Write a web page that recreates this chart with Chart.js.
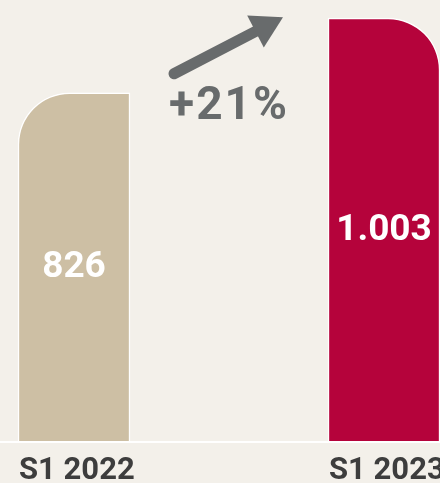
<!DOCTYPE html>
<html lang="en">
<head>
    <meta charset="UTF-8">
    <title>S1 2022 vs S1 2023</title>
    <script src="https://cdn.jsdelivr.net/npm/chart.js"></script>
    <style>
        html, body {
            margin: 0;
            padding: 0;
            background-color: #f3f0ea;
        }
        .chart-container {
            width: 440px;
            height: 483px;
            position: relative;
        }
    </style>
</head>
<body>
    <div class="chart-container">
        <canvas id="growthChart"></canvas>
    </div>

    <script>
        // chart data
        const categories = ['S1 2022', 'S1 2023'];
        const values = [826, 1003];
        const valueLabels = ['826', '1.003'];
        const changeLabel = '+21%';

        const barColors = ['#cdbfa4', '#b5033b'];
        const textGray = '#3d3d3d';
        const arrowGray = '#686b6c';

        // draws value labels, category labels, baseline and the growth arrow
        const annotations = {
            id: 'annotations',
            afterDatasetsDraw(chart) {
                const ctx = chart.ctx;
                const bars = chart.getDatasetMeta(0).data;
                const area = chart.chartArea;

                ctx.save();

                // baseline
                ctx.strokeStyle = '#ffffff';
                ctx.lineWidth = 2;
                ctx.beginPath();
                ctx.moveTo(0, area.bottom + 1);
                ctx.lineTo(chart.width, area.bottom + 1);
                ctx.stroke();

                bars.forEach((bar, i) => {
                    // value inside the bar
                    ctx.fillStyle = '#ffffff';
                    ctx.font = 'bold 37px Roboto';
                    ctx.textAlign = 'center';
                    ctx.textBaseline = 'middle';
                    ctx.fillText(valueLabels[i], bar.x, (bar.y + bar.base) / 2 + 1);

                    // category under the bar, left aligned
                    ctx.fillStyle = textGray;
                    ctx.font = 'bold 31px Roboto';
                    ctx.textAlign = 'left';
                    ctx.textBaseline = 'alphabetic';
                    ctx.fillText(categories[i], bar.x - bar.width / 2 + 1, 479);
                });

                // growth arrow between the bars
                const b1 = bars[0], b2 = bars[1];
                const x0 = b1.x + b1.width / 2 + 44, y0 = b1.y - 19;
                const x1 = b2.x - b2.width / 2 - 45, y1 = b2.y - 1;
                const ang = Math.atan2(y1 - y0, x1 - x0);
                const headLen = 31, headW = 18;
                const bx = x1 - headLen * Math.cos(ang);
                const by = y1 - headLen * Math.sin(ang);

                ctx.strokeStyle = arrowGray;
                ctx.fillStyle = arrowGray;
                ctx.lineWidth = 11;
                ctx.lineCap = 'round';
                ctx.beginPath();
                ctx.moveTo(x0, y0);
                ctx.lineTo(bx + 4 * Math.cos(ang), by + 4 * Math.sin(ang));
                ctx.stroke();

                ctx.beginPath();
                ctx.moveTo(x1, y1);
                ctx.lineTo(bx + headW * Math.sin(ang), by - headW * Math.cos(ang));
                ctx.lineTo(bx - headW * Math.sin(ang), by + headW * Math.cos(ang));
                ctx.closePath();
                ctx.fill();

                // percentage change
                ctx.font = 'bold 46px Roboto';
                ctx.letterSpacing = '2px';
                ctx.textAlign = 'center';
                ctx.textBaseline = 'alphabetic';
                ctx.fillText(changeLabel, (b1.x + b2.x) / 2, 119);

                ctx.restore();
            }
        };

        const ctx = document.getElementById('growthChart').getContext('2d');
        new Chart(ctx, {
            type: 'bar',
            data: {
                labels: categories,
                datasets: [{
                    data: values,
                    backgroundColor: barColors,
                    borderColor: '#ffffff',
                    borderWidth: 1.5,
                    borderSkipped: 'bottom',
                    borderRadius: (c) => c.dataIndex === 0
                        ? { topLeft: 52, topRight: 0, bottomLeft: 0, bottomRight: 0 }
                        : { topLeft: 0, topRight: 52, bottomLeft: 0, bottomRight: 0 },
                    barThickness: 112,
                    clip: false
                }]
            },
            options: {
                responsive: true,
                maintainAspectRatio: false,
                animation: false,
                layout: {
                    padding: { left: 74, right: 56, top: 0, bottom: 42 }
                },
                scales: {
                    x: {
                        display: false,
                        offset: false
                    },
                    y: {
                        display: false,
                        min: 0,
                        max: 1046
                    }
                },
                plugins: {
                    legend: { display: false },
                    tooltip: { enabled: false }
                }
            },
            plugins: [annotations]
        });
    </script>
</body>
</html>
